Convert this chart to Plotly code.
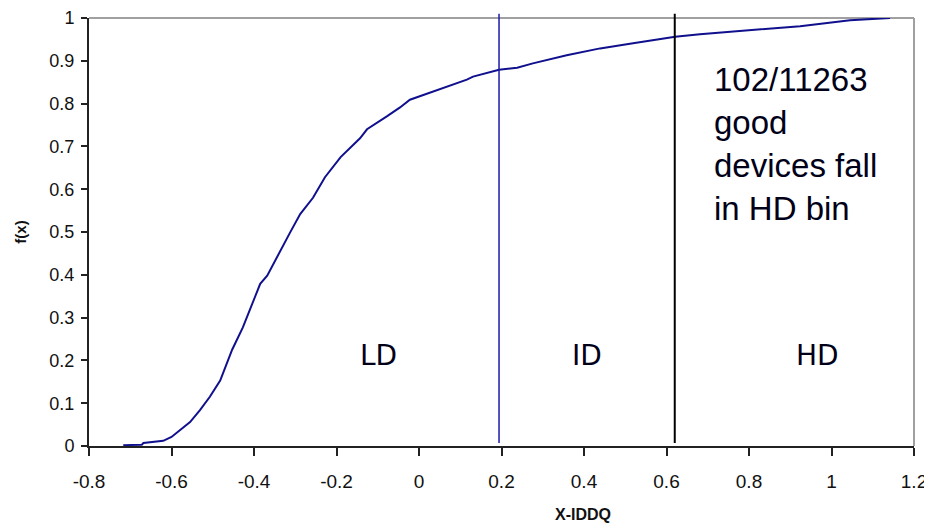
import plotly.graph_objects as go

# CDF of X-IDDQ
cdf_x = [-0.717, -0.672, -0.668, -0.640, -0.620, -0.600, -0.579, -0.555, -0.531,
         -0.507, -0.482, -0.453, -0.427, -0.415, -0.385, -0.368, -0.337, -0.313,
         -0.288, -0.257, -0.228, -0.190, -0.143, -0.126, -0.078, -0.046, -0.022,
         0.034, 0.051, 0.116, 0.131, 0.194, 0.238, 0.276, 0.358, 0.439, 0.519,
         0.621, 0.681, 0.802, 0.924, 1.045, 1.142]
cdf_y = [0.002, 0.003, 0.007, 0.009, 0.012, 0.021, 0.037, 0.056, 0.084,
         0.115, 0.153, 0.225, 0.277, 0.305, 0.379, 0.398, 0.456, 0.498,
         0.542, 0.580, 0.628, 0.675, 0.719, 0.740, 0.770, 0.791, 0.809,
         0.828, 0.835, 0.856, 0.863, 0.879, 0.884, 0.894, 0.913, 0.929, 0.941,
         0.956, 0.962, 0.972, 0.981, 0.995, 1.000]

# bin thresholds
ld_id_limit = [0.194]
id_hd_limit = [0.62]

# bin labels and their positions
bin_labels = ["LD", "ID", "HD"]
bin_label_x = [-0.097, 0.407, 0.967]
bin_label_y = [0.212, 0.212, 0.212]

note_text = ["102/11263", "good", "devices fall", "in HD bin"]
note_x = [0.71]
note_y = [0.705]

x_tickvals = [-0.8, -0.6, -0.4, -0.2, 0, 0.2, 0.4, 0.6, 0.8, 1, 1.2]
x_ticktext = ["-0.8", "-0.6", "-0.4", "-0.2", "0", "0.2", "0.4", "0.6", "0.8", "1", "1.2"]
y_tickvals = [0, 0.1, 0.2, 0.3, 0.4, 0.5, 0.6, 0.7, 0.8, 0.9, 1]
y_ticktext = ["0", "0.1", "0.2", "0.3", "0.4", "0.5", "0.6", "0.7", "0.8", "0.9", "1"]

fig = go.Figure()
fig.add_trace(go.Scatter(x=cdf_x, y=cdf_y, mode="lines",
                         line=dict(color="#10108e", width=2), showlegend=False,
                         hoverinfo="skip"))

fig.add_shape(type="line", xref="x", yref="paper", x0=ld_id_limit[0], x1=ld_id_limit[0],
              y0=0.007, y1=1.01, line=dict(color="#1a1aa8", width=1.5))
fig.add_shape(type="line", xref="x", yref="paper", x0=id_hd_limit[0], x1=id_hd_limit[0],
              y0=0.007, y1=1.01, line=dict(color="#000000", width=2))

# gray top and right frame
fig.add_shape(type="line", xref="paper", yref="paper", x0=0, x1=1, y0=1, y1=1,
              line=dict(color="#a0a0a0", width=2), layer="below")
fig.add_shape(type="line", xref="paper", yref="paper", x0=1, x1=1, y0=0, y1=1,
              line=dict(color="#a0a0a0", width=2), layer="below")

for lab, lx, ly in zip(bin_labels, bin_label_x, bin_label_y):
    fig.add_annotation(x=lx, y=ly, xref="x", yref="y", text=lab, showarrow=False,
                       font=dict(family="DejaVu Sans", size=28, color="#000018"))

fig.add_annotation(x=note_x[0], y=note_y[0], xref="x", yref="y",
                   text="<br>".join(note_text), showarrow=False, align="left",
                   xanchor="left", yanchor="middle",
                   font=dict(family="Liberation Sans, Arial", size=33, color="#000018"))

fig.add_annotation(x=0.599, y=-0.16, xref="paper", yref="paper", text="<b>X-IDDQ</b>",
                   showarrow=False, xanchor="center", yanchor="middle",
                   font=dict(family="Liberation Sans, Arial", size=16, color="#111111"))
fig.add_annotation(x=-0.084, y=0.5, xref="paper", yref="paper", text="<b>f(x)</b>",
                   showarrow=False, xanchor="center", yanchor="middle", textangle=-90,
                   font=dict(family="Liberation Sans, Arial", size=15, color="#111111"))

fig.update_xaxes(range=[-0.8, 1.2], tickvals=x_tickvals, ticktext=x_ticktext,
                 showgrid=False, zeroline=False, showline=True, linecolor="#222222",
                 linewidth=2, ticks="outside", ticklen=8, tickwidth=1.5, tickcolor="#222222",
                 ticklabelstandoff=9, automargin=False, ticklabeloverflow="allow",
                 tickfont=dict(family="Liberation Sans, Arial", size=19, color="#111111"))
fig.update_yaxes(range=[0, 1], tickvals=y_tickvals, ticktext=y_ticktext,
                 showgrid=False, zeroline=False, showline=True, linecolor="#222222",
                 linewidth=2, ticks="outside", ticklen=6, tickwidth=1.5, tickcolor="#222222",
                 ticklabelstandoff=3, automargin=False, ticklabeloverflow="allow",
                 tickfont=dict(family="Liberation Sans, Arial", size=18, color="#111111"))

fig.update_layout(width=924, height=524, plot_bgcolor="white", paper_bgcolor="white",
                  margin=dict(l=81, r=18, t=10, b=86))

fig.write_html("out.html")
